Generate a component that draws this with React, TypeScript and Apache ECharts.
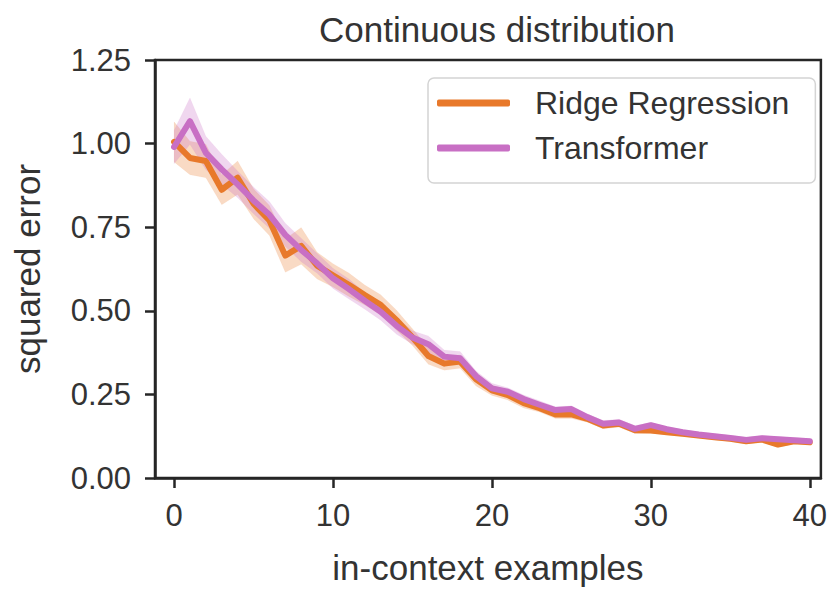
import React, { useEffect, useRef } from "react";
import * as echarts from "echarts";

const xs = [0,1,2,3,4,5,6,7,8,9,10,11,12,13,14,15,16,17,18,19,20,21,22,23,24,25,26,27,28,29,30,31,32,33,34,35,36,37,38,39,40];
const ridge = [1.005,0.957,0.948,0.862,0.898,0.82,0.77,0.665,0.694,0.635,0.606,0.578,0.547,0.518,0.472,0.421,0.365,0.342,0.348,0.295,0.262,0.248,0.224,0.209,0.19,0.19,0.177,0.157,0.162,0.143,0.142,0.137,0.132,0.127,0.122,0.117,0.11,0.115,0.10,0.11,0.107];
const ridgeErr = [0.06,0.05,0.05,0.045,0.05,0.045,0.045,0.05,0.055,0.04,0.035,0.035,0.03,0.03,0.03,0.025,0.025,0.02,0.02,0.02,0.015,0.015,0.015,0.012,0.012,0.012,0.01,0.01,0.01,0.01,0.008,0.008,0.008,0.008,0.008,0.008,0.008,0.008,0.008,0.008,0.008];
const transformer = [0.99,1.067,0.972,0.923,0.878,0.83,0.787,0.727,0.682,0.642,0.597,0.565,0.53,0.497,0.455,0.42,0.40,0.363,0.358,0.305,0.268,0.258,0.236,0.219,0.203,0.206,0.182,0.162,0.166,0.147,0.158,0.146,0.137,0.13,0.125,0.12,0.114,0.119,0.116,0.113,0.11];
const transformerErr = [0.05,0.07,0.05,0.045,0.04,0.04,0.04,0.035,0.035,0.03,0.03,0.03,0.025,0.025,0.025,0.02,0.025,0.02,0.02,0.015,0.015,0.012,0.012,0.012,0.01,0.01,0.01,0.01,0.01,0.01,0.008,0.008,0.008,0.008,0.008,0.008,0.008,0.008,0.008,0.008,0.008];
const xTicks = [0, 10, 20, 30, 40];
const yTicks = [0, 0.25, 0.5, 0.75, 1.0, 1.25];

const ORANGE = "#e8792b";
const PURPLE = "#c86fc4";
const FONT = "Liberation Sans, Arial, sans-serif";
const INK = "#333333";
const AXIS = "#262626";

function bandSeries(name: string, mean: number[], err: number[], color: string) {
  const rows = xs.map((x, i) => [x, mean[i] - err[i], mean[i] + err[i]]);
  return {
    type: "custom",
    name: name + " band",
    data: rows,
    encode: { x: 0, y: [1, 2] },
    silent: true,
    z: 1,
    renderItem: (params: any, api: any) => {
      if (params.dataIndex !== 0) return null;
      const upper = rows.map((r) => api.coord([r[0], r[2]]));
      const lower = rows.map((r) => api.coord([r[0], r[1]])).reverse();
      return {
        type: "polygon",
        shape: { points: upper.concat(lower) },
        style: { fill: color, opacity: 0.28, stroke: color, lineWidth: 1, strokeOpacity: 0.15 },
      };
    },
  };
}

export default function App() {
  const ref = useRef<HTMLDivElement>(null);
  useEffect(() => {
    if (!ref.current) return;
    const chart = echarts.init(ref.current, undefined, { renderer: "svg" });
    chart.setOption({
      animation: false,
      backgroundColor: "#ffffff",
      title: {
        text: "Continuous distribution",
        left: 492,
        textAlign: "center",
        top: 7,
        textStyle: { fontFamily: FONT, fontSize: 35, fontWeight: "normal", color: INK },
      },
      grid: {
        left: 155, right: 7, top: 60, bottom: 103,
        show: true, borderColor: AXIS, borderWidth: 2.5, backgroundColor: "transparent",
      },
      legend: {
        left: 428, top: 78,
        orient: "vertical",
        data: ["Ridge Regression", "Transformer"],
        itemWidth: 73, itemHeight: 7, itemGap: 13,
        icon: "roundRect",
        padding: [9, 26, 19, 9],
        borderColor: "#d4d4d4", borderWidth: 1.5, borderRadius: 6,
        backgroundColor: "#ffffff",
        textStyle: { fontFamily: FONT, fontSize: 32, color: INK, lineHeight: 32, padding: [0, 0, 0, 20] },
      },
      xAxis: {
        type: "value",
        min: -1.2, max: 40.7,
        name: "in-context examples",
        nameLocation: "middle",
        nameGap: 72,
        nameTextStyle: { fontFamily: FONT, fontSize: 35, color: INK },
        axisLine: { show: true, onZero: false, lineStyle: { color: AXIS, width: 2.5 } },
        axisTick: { show: true, length: 10, lineStyle: { color: AXIS, width: 2.5 }, customValues: xTicks },
        axisLabel: { fontFamily: FONT, fontSize: 31, color: INK, margin: 22, customValues: xTicks },
        splitLine: { show: false },
      },
      yAxis: {
        type: "value",
        min: 0, max: 1.25, interval: 0.25,
        name: "squared error",
        nameLocation: "middle",
        nameGap: 110,
        nameTextStyle: { fontFamily: FONT, fontSize: 35, color: INK },
        axisLine: { show: true, onZero: false, lineStyle: { color: AXIS, width: 2.5 } },
        axisTick: { show: true, length: 10, lineStyle: { color: AXIS, width: 2.5 }, customValues: yTicks },
        axisLabel: { fontFamily: FONT, fontSize: 31, color: INK, margin: 24, formatter: (v: number) => v.toFixed(2), customValues: yTicks },
        splitLine: { show: false },
      },
      series: [
        bandSeries("Ridge Regression", ridge, ridgeErr, ORANGE),
        bandSeries("Transformer", transformer, transformerErr, PURPLE),
        {
          type: "line", name: "Ridge Regression",
          data: xs.map((x, i) => [x, ridge[i]]),
          showSymbol: false, symbol: "none",
          lineStyle: { color: ORANGE, width: 6, join: "round", cap: "round" },
          itemStyle: { color: ORANGE },
          z: 3,
        },
        {
          type: "line", name: "Transformer",
          data: xs.map((x, i) => [x, transformer[i]]),
          showSymbol: false, symbol: "none",
          lineStyle: { color: PURPLE, width: 6, join: "round", cap: "round" },
          itemStyle: { color: PURPLE },
          z: 4,
        },
      ],
    });
    return () => chart.dispose();
  }, []);
  return <div ref={ref} style={{ position: "absolute", left: 0, top: 0, width: 830, height: 590 }} />;
}
